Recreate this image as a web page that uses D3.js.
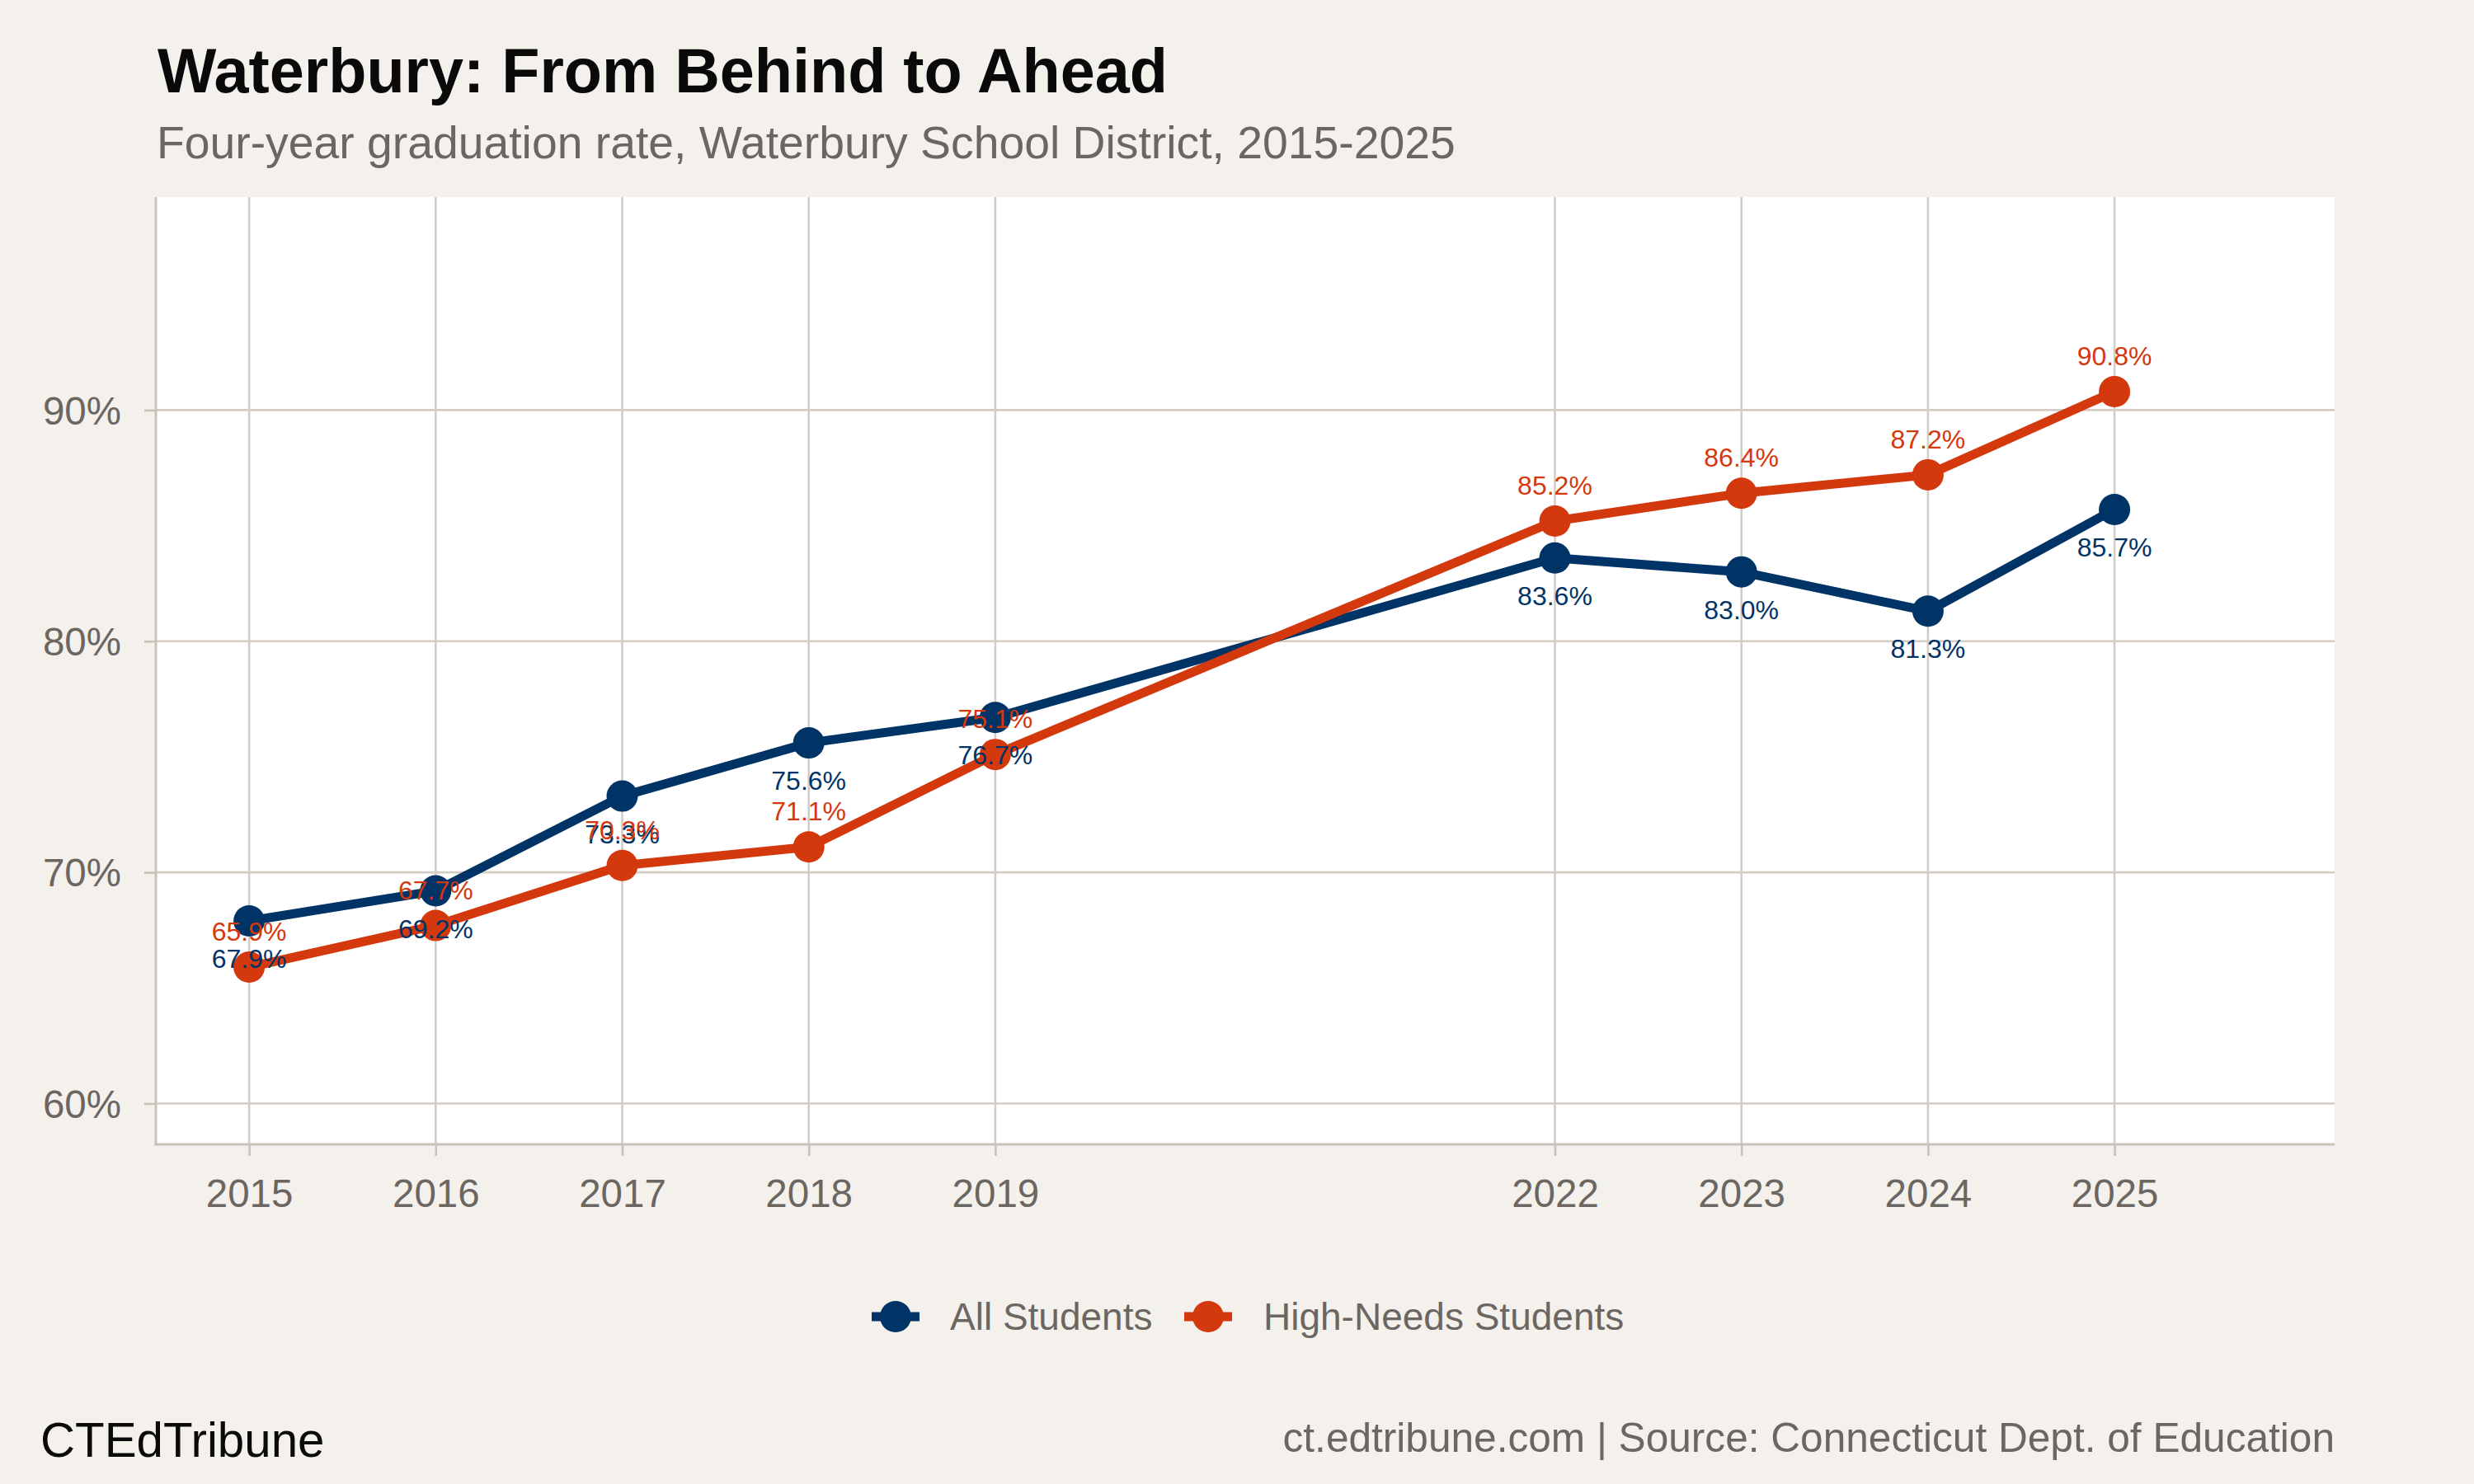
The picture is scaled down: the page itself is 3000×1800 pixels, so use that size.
<!DOCTYPE html>
<html>
<head>
<meta charset="utf-8">
<script src="https://cdn.jsdelivr.net/npm/d3@7"></script>
<style>
  html, body { margin: 0; padding: 0; background: #f4f1ec; }
  svg { display: block; }
  text { font-family: "Liberation Sans", Arial, Helvetica, sans-serif; }
</style>
</head>
<body>
<svg id="chart" width="3000" height="1800"></svg>
<script>
const years = [2015, 2016, 2017, 2018, 2019, 2022, 2023, 2024, 2025];
const allStudents = [67.9, 69.2, 73.3, 75.6, 76.7, 83.6, 83.0, 81.3, 85.7];
const highNeeds = [65.9, 67.7, 70.3, 71.1, 75.1, 85.2, 86.4, 87.2, 90.8];
const yTicks = [60, 70, 80, 90];
const seriesNames = ["All Students", "High-Needs Students"];
const colors = ["#003366", "#d4380d"];

const W = 3000, H = 1800;
const panel = { left: 189, right: 2831, top: 239, bottom: 1388 };
const grey = "#6b6661";
const gridColor = "#d3cdc5";
const axisColor = "#c9c2b8";

const svg = d3.select("#chart");
svg.append("rect").attr("width", W).attr("height", H).attr("fill", "#f4f1ec");

const x = d3.scaleLinear().domain([2014.5, 2026.18]).range([panel.left, panel.right]);
const y = d3.scaleLinear().domain([58.234, 99.216]).range([panel.bottom, panel.top]);

// panel
svg.append("rect")
  .attr("x", panel.left).attr("y", panel.top)
  .attr("width", panel.right - panel.left).attr("height", panel.bottom - panel.top)
  .attr("fill", "#ffffff");

// grid
const g = svg.append("g");
g.selectAll("line.hgrid").data(yTicks).enter().append("line")
  .attr("x1", panel.left).attr("x2", panel.right)
  .attr("y1", d => y(d)).attr("y2", d => y(d))
  .attr("stroke", gridColor).attr("stroke-width", 2.6);
g.selectAll("line.vgrid").data(years).enter().append("line")
  .attr("y1", panel.top).attr("y2", panel.bottom)
  .attr("x1", d => x(d)).attr("x2", d => x(d))
  .attr("stroke", gridColor).attr("stroke-width", 2.6);

// axes
const yAxis = d3.axisLeft(y).tickValues(yTicks).tickFormat(d => d + "%").tickSize(14).tickPadding(28);
const xAxis = d3.axisBottom(x).tickValues(years).tickFormat(d3.format("d")).tickSize(14).tickPadding(28);

const ya = svg.append("g").attr("transform", `translate(${panel.left},0)`).call(yAxis);
ya.select(".domain").remove();
ya.selectAll(".tick line").attr("stroke", axisColor).attr("stroke-width", 2.6);
ya.selectAll(".tick text").attr("fill", grey).attr("font-size", 47.5)
  .attr("font-family", '"Liberation Sans", Arial, sans-serif').attr("dy", "0.35em");

const xa = svg.append("g").attr("transform", `translate(0,${panel.bottom})`).call(xAxis);
xa.select(".domain").remove();
xa.selectAll(".tick line").attr("stroke", axisColor).attr("stroke-width", 2.6);
xa.selectAll(".tick text").attr("fill", grey).attr("font-size", 47.5)
  .attr("font-family", '"Liberation Sans", Arial, sans-serif').attr("dy", "0.71em");

// axis lines
svg.append("line").attr("x1", panel.left).attr("x2", panel.left)
  .attr("y1", panel.top).attr("y2", panel.bottom + 1.5)
  .attr("stroke", axisColor).attr("stroke-width", 3);
svg.append("line").attr("x1", panel.left - 1.5).attr("x2", panel.right)
  .attr("y1", panel.bottom).attr("y2", panel.bottom)
  .attr("stroke", axisColor).attr("stroke-width", 3);

// series
const series = [allStudents, highNeeds].map((vals, i) => ({
  name: seriesNames[i], color: colors[i],
  pts: years.map((yr, j) => ({ year: yr, v: vals[j] }))
}));

const line = d3.line().x(d => x(d.year)).y(d => y(d.v));
series.forEach(s => {
  svg.append("path").datum(s.pts)
    .attr("d", line).attr("fill", "none")
    .attr("stroke", s.color).attr("stroke-width", 11)
    .attr("stroke-linejoin", "round");
});
series.forEach(s => {
  svg.append("g").selectAll("circle").data(s.pts).enter().append("circle")
    .attr("cx", d => x(d.year)).attr("cy", d => y(d.v)).attr("r", 19)
    .attr("fill", s.color);
});
// labels: All Students below, High-Needs above
series.forEach((s, i) => {
  svg.append("g").selectAll("text").data(s.pts).enter().append("text")
    .attr("x", d => x(d.year))
    .attr("y", d => i === 0 ? y(d.v) + 57 : y(d.v) - 32)
    .attr("text-anchor", "middle")
    .attr("font-size", 32)
    .attr("fill", s.color)
    .text(d => d.v.toFixed(1) + "%");
});

// title & subtitle
svg.append("text").attr("x", 191).attr("y", 112)
  .attr("font-size", 75.6).attr("font-weight", "bold").attr("fill", "#0a0a0a")
  .text("Waterbury: From Behind to Ahead");
svg.append("text").attr("x", 190).attr("y", 192)
  .attr("font-size", 55.3).attr("fill", grey)
  .text("Four-year graduation rate, Waterbury School District, 2015-2025");

// legend
const legendItems = [
  { name: seriesNames[0], color: colors[0], cx: 1086, tx: 1152 },
  { name: seriesNames[1], color: colors[1], cx: 1465, tx: 1532 }
];
const ly = 1597;
legendItems.forEach(it => {
  svg.append("line").attr("x1", it.cx - 29).attr("x2", it.cx + 29)
    .attr("y1", ly).attr("y2", ly).attr("stroke", it.color).attr("stroke-width", 11);
  svg.append("circle").attr("cx", it.cx).attr("cy", ly).attr("r", 19).attr("fill", it.color);
  svg.append("text").attr("x", it.tx).attr("y", 1613)
    .attr("font-size", 46).attr("fill", grey).text(it.name);
});

// footer
svg.append("text").attr("x", 49).attr("y", 1767)
  .attr("font-size", 58.3).attr("fill", "#0a0a0a").text("CTEdTribune");
svg.append("text").attr("x", 2831).attr("y", 1761).attr("text-anchor", "end")
  .attr("font-size", 49.6).attr("fill", grey)
  .text("ct.edtribune.com | Source: Connecticut Dept. of Education");
</script>
</body>
</html>
